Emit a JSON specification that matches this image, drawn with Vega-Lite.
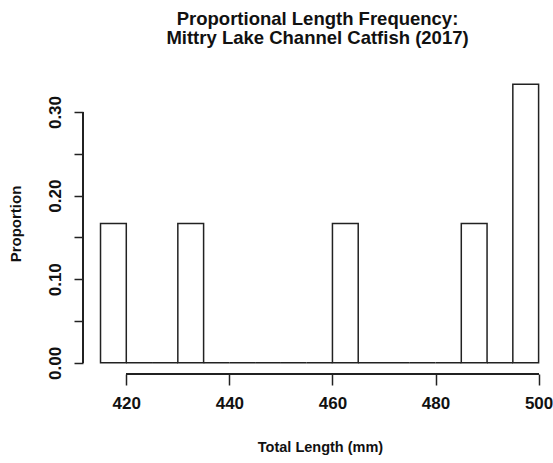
{
  "$schema": "https://vega.github.io/schema/vega-lite/v6.json",
  "width": 469,
  "height": 301,
  "autosize": {"type": "none"},
  "padding": {"left": 83, "top": 73, "right": 1, "bottom": 89},
  "background": "white",
  "title": {
    "text": ["Proportional Length Frequency:", "\u2002\u2002Mittry Lake Channel Catfish (2017)"],
    "font": "Liberation Sans",
    "fontSize": 18.5,
    "fontWeight": "bold",
    "color": "#111",
    "anchor": "middle",
    "frame": "group",
    "lineHeight": 19,
    "offset": 26
  },
  "config": {
    "view": {"stroke": null},
    "axis": {
      "labelFont": "Liberation Sans",
      "titleFont": "Liberation Sans",
      "labelColor": "#111",
      "titleColor": "#111",
      "tickColor": "#222",
      "tickWidth": 1.5,
      "grid": false,
      "domain": false
    }
  },
  "data": {
    "values": [
      {"start": 415, "end": 420, "proportion": 0.16667},
      {"start": 420, "end": 425, "proportion": 0},
      {"start": 425, "end": 430, "proportion": 0},
      {"start": 430, "end": 435, "proportion": 0.16667},
      {"start": 435, "end": 440, "proportion": 0},
      {"start": 440, "end": 445, "proportion": 0},
      {"start": 445, "end": 450, "proportion": 0},
      {"start": 450, "end": 455, "proportion": 0},
      {"start": 455, "end": 460, "proportion": 0},
      {"start": 460, "end": 465, "proportion": 0.16667},
      {"start": 465, "end": 470, "proportion": 0},
      {"start": 470, "end": 475, "proportion": 0},
      {"start": 475, "end": 480, "proportion": 0},
      {"start": 480, "end": 485, "proportion": 0},
      {"start": 485, "end": 490, "proportion": 0.16667},
      {"start": 490, "end": 495, "proportion": 0},
      {"start": 495, "end": 500, "proportion": 0.33333}
    ]
  },
  "layer": [
    {
      "mark": {"type": "rect", "fill": "white", "stroke": "#222", "strokeWidth": 1.5},
      "encoding": {
        "x": {
          "field": "start",
          "type": "quantitative",
          "scale": {"domain": [411.6, 502.6], "nice": false, "zero": false},
          "axis": {
            "values": [420, 440, 460, 480, 500],
            "tickSize": 11,
            "labelFontSize": 17,
            "labelFontWeight": "bold",
            "labelPadding": 10,
            "title": "Total Length (mm)",
            "titleFontSize": 14.5,
            "titleFontWeight": "bold",
            "titlePadding": 29,
            "titleX": 237
          }
        },
        "x2": {"field": "end"},
        "y": {
          "field": "proportion",
          "type": "quantitative",
          "scale": {"domain": [-0.01333, 0.34667], "nice": false, "zero": false},
          "axis": {
            "values": [0, 0.05, 0.1, 0.15, 0.2, 0.25, 0.3],
            "labelExpr": "indexof(['0.00','0.10','0.20','0.30'], format(datum.value, '.2f')) >= 0 ? format(datum.value, '.2f') : ''",
            "tickSize": 9,
            "labelAngle": -90,
            "labelAlign": "center",
            "labelBaseline": "bottom",
            "labelFontSize": 17,
            "labelFontWeight": "bold",
            "labelPadding": 10,
            "title": "Proportion",
            "titleFontSize": 15,
            "titleFontWeight": "bold",
            "titlePadding": 23
          }
        },
        "y2": {"datum": 0}
      }
    },
    {
      "mark": {"type": "rule", "stroke": "#222", "strokeWidth": 1.5},
      "encoding": {
        "x": {"datum": 420},
        "x2": {"datum": 500},
        "y": {"datum": -0.01333}
      }
    },
    {
      "mark": {"type": "rule", "stroke": "#222", "strokeWidth": 1.5},
      "encoding": {
        "x": {"datum": 411.6},
        "y": {"datum": 0},
        "y2": {"datum": 0.3}
      }
    }
  ]
}
